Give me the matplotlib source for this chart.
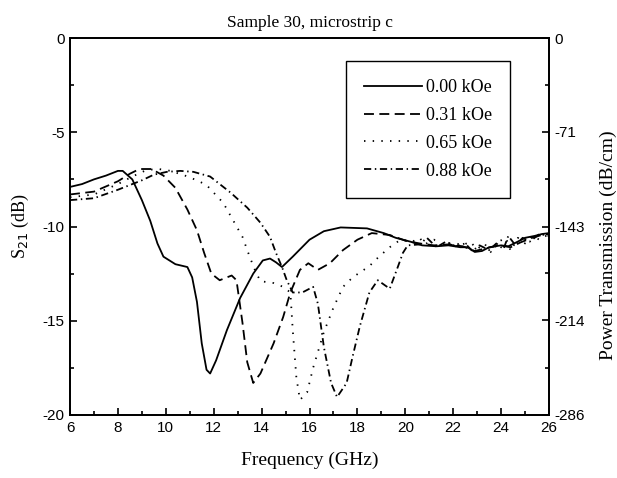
import matplotlib
matplotlib.use('Agg')
from matplotlib import pyplot as plt
from matplotlib.ticker import MultipleLocator, FixedLocator

plt.rcParams['axes.unicode_minus'] = False

# S21 (dB) vs frequency (GHz)
f0 = [6.0, 6.5, 7.0, 7.5, 8.0, 8.2, 8.6, 9.0, 9.35, 9.65, 9.9, 10.4, 10.9, 11.1,
      11.3, 11.5, 11.7, 11.85, 12.1, 12.55, 13.1, 13.65, 14.05, 14.35, 14.6,
      14.85, 15.3, 16.0, 16.6, 17.3, 18.4, 19.1, 19.6, 20.2, 20.7, 21.3, 21.8,
      22.3, 22.6, 22.9, 23.2, 23.5, 24.0, 24.3, 24.7, 25.0, 25.4, 25.7, 26.0]
s0 = [-7.9, -7.75, -7.5, -7.3, -7.05, -7.05, -7.5, -8.6, -9.7, -10.9, -11.6,
      -12.0, -12.15, -12.7, -14.0, -16.2, -17.6, -17.8, -17.1, -15.5, -13.8,
      -12.5, -11.8, -11.7, -11.9, -12.15, -11.6, -10.7, -10.25, -10.05, -10.1,
      -10.35, -10.6, -10.8, -11.0, -11.05, -11.0, -11.1, -11.1, -11.35, -11.3,
      -11.1, -11.0, -11.05, -10.8, -10.6, -10.5, -10.4, -10.35]

f1 = [6.0, 7.0, 8.0, 8.5, 8.9, 9.4, 9.9, 10.4, 10.9, 11.3, 11.6, 11.9, 12.25,
      12.75, 12.95, 13.2, 13.4, 13.65, 13.95, 14.5, 14.9, 15.2, 15.6, 15.95,
      16.35, 16.85, 17.4, 18.0, 18.6, 19.35, 20.0, 20.6, 21.2, 21.8, 22.4,
      22.9, 23.4, 23.9, 24.4, 24.8, 25.3, 25.7, 26.0]
s1 = [-8.3, -8.15, -7.6, -7.2, -6.95, -6.95, -7.3, -7.95, -9.1, -10.2, -11.4,
      -12.5, -12.85, -12.6, -12.85, -15.1, -17.2, -18.3, -17.8, -16.2, -14.8,
      -13.5, -12.3, -11.95, -12.3, -11.95, -11.25, -10.7, -10.35, -10.45,
      -10.75, -10.9, -11.0, -10.95, -11.05, -11.3, -11.15, -11.0, -11.1,
      -10.85, -10.6, -10.45, -10.4]

f2 = [6.0, 7.0, 8.0, 8.6, 9.2, 9.7, 10.2, 10.8, 11.3, 11.7, 12.4, 12.8, 13.2,
      13.5, 13.75, 13.95, 14.5, 14.9, 15.2, 15.3, 15.45, 15.6, 15.9, 16.15,
      16.6, 17.0, 17.4, 17.8, 18.5, 18.9, 19.35, 19.8, 20.3, 20.6, 20.8, 21.2,
      21.5, 22.0, 22.4, 22.7, 23.0, 23.3, 23.6, 23.9, 24.2, 24.4, 24.7, 25.0,
      25.3, 25.6, 26.0]
s2 = [-8.45, -8.3, -7.75, -7.35, -7.0, -6.95, -7.05, -7.3, -7.55, -7.8, -8.75,
      -9.65, -10.55, -11.6, -12.4, -12.9, -13.0, -13.2, -13.5, -15.5, -18.0,
      -19.2, -18.8, -17.5, -15.6, -14.3, -13.2, -12.7, -12.1, -11.6, -11.1,
      -10.7, -10.8, -10.6, -10.95, -10.7, -11.0, -10.85, -11.0, -10.8, -11.2,
      -10.9, -11.4, -10.8, -10.6, -11.3, -10.6, -10.9, -10.5, -10.7, -10.4]

f3 = [6.0, 7.0, 8.0, 9.0, 9.5, 10.05, 10.6, 11.15, 11.85, 12.7, 13.4, 13.95,
      14.35, 14.6, 14.85, 15.05, 15.3, 15.7, 16.15, 16.35, 16.6, 16.9, 17.15,
      17.55, 17.8, 18.1, 18.5, 18.85, 19.35, 19.7, 19.9, 20.1, 20.6, 20.9,
      21.3, 21.7, 22.1, 22.5, 22.8, 23.1, 23.5, 23.8, 24.1, 24.3, 24.6, 24.9,
      25.2, 25.6, 26.0]
s3 = [-8.6, -8.5, -8.05, -7.55, -7.25, -7.1, -7.05, -7.1, -7.35, -8.2, -9.0,
      -9.8, -10.55, -11.4, -12.15, -12.85, -13.5, -13.5, -13.2, -14.1, -16.4,
      -18.3, -19.05, -18.3, -16.9, -15.3, -13.5, -12.85, -13.3, -12.1, -11.4,
      -11.0, -10.95, -10.6, -11.1, -10.8, -11.05, -10.9, -11.3, -11.0, -11.25,
      -10.9, -11.2, -10.5, -11.0, -10.6, -10.8, -10.4, -10.5]

labels = ['0.00 kOe', '0.31 kOe', '0.65 kOe', '0.88 kOe']
right_ticks = [0, -71, -143, -214, -286]

serif = ['Liberation Serif', 'DejaVu Serif']
sans = ['Liberation Sans Narrow', 'Liberation Sans', 'DejaVu Sans']

fig = plt.figure(figsize=(6.17, 4.78), dpi=100)
ax = fig.add_axes([0.1135, 0.1318, 0.7763, 0.7887])

ax.plot(f0, s0, color='black', lw=1.3, ls='-', label=labels[0])
ax.plot(f1, s1, color='black', lw=1.3, ls=(0, (5.5, 3)), label=labels[1])
ax.plot(f2, s2, color='black', lw=1.3, ls=(0, (0.8, 4)), label=labels[2])
ax.plot(f3, s3, color='black', lw=1.3, ls=(0, (4, 2, 0.8, 2)), label=labels[3])

ax.set_xlim(6, 26)
ax.set_ylim(-20, 0)
ax.xaxis.set_major_locator(MultipleLocator(2))
ax.xaxis.set_minor_locator(MultipleLocator(1))
ax.yaxis.set_major_locator(MultipleLocator(5))
ax.yaxis.set_minor_locator(MultipleLocator(2.5))
ax.tick_params(which='both', direction='in', top=False, right=False,
               width=1.2)
ax.tick_params(which='major', length=5, labelsize=11, pad=4)
ax.tick_params(which='minor', length=3)

ax2 = ax.twinx()
ax2.set_ylim(-286, 0)
ax2.yaxis.set_major_locator(FixedLocator(right_ticks))
ax2.yaxis.set_minor_locator(FixedLocator([-35.5, -107, -178.5, -250]))
ax2.tick_params(which='both', direction='in', width=1.2)
ax2.tick_params(which='major', length=5, labelsize=11, pad=4)
ax2.tick_params(which='minor', length=3)

for a in (ax, ax2):
    for s in a.spines.values():
        s.set_linewidth(1.3)
    for t in a.get_xticklabels() + a.get_yticklabels():
        t.set_family(sans)

ax.set_xlabel('Frequency (GHz)', family=serif, fontsize=14, labelpad=12)
ax.set_ylabel('S$_{21}$ (dB)', family=serif, fontsize=13, labelpad=8)
ax2.set_ylabel('Power Transmission (dB/cm)', family=serif, fontsize=14)
ax2.yaxis.set_label_coords(1.106, 0.45)
ax.set_title('Sample 30, microstrip c', family=serif, fontsize=12.5, pad=8)

leg = ax.legend(loc='upper right', bbox_to_anchor=(0.9186, 0.939),
                borderaxespad=0,
                prop={'family': serif, 'size': 13}, handlelength=3.2,
                handletextpad=0.2, labelspacing=0.6, borderpad=1.0,
                frameon=True, fancybox=False, framealpha=1,
                edgecolor='black')
leg.get_frame().set_linewidth(1.0)

plt.savefig('out.png', dpi=100)
